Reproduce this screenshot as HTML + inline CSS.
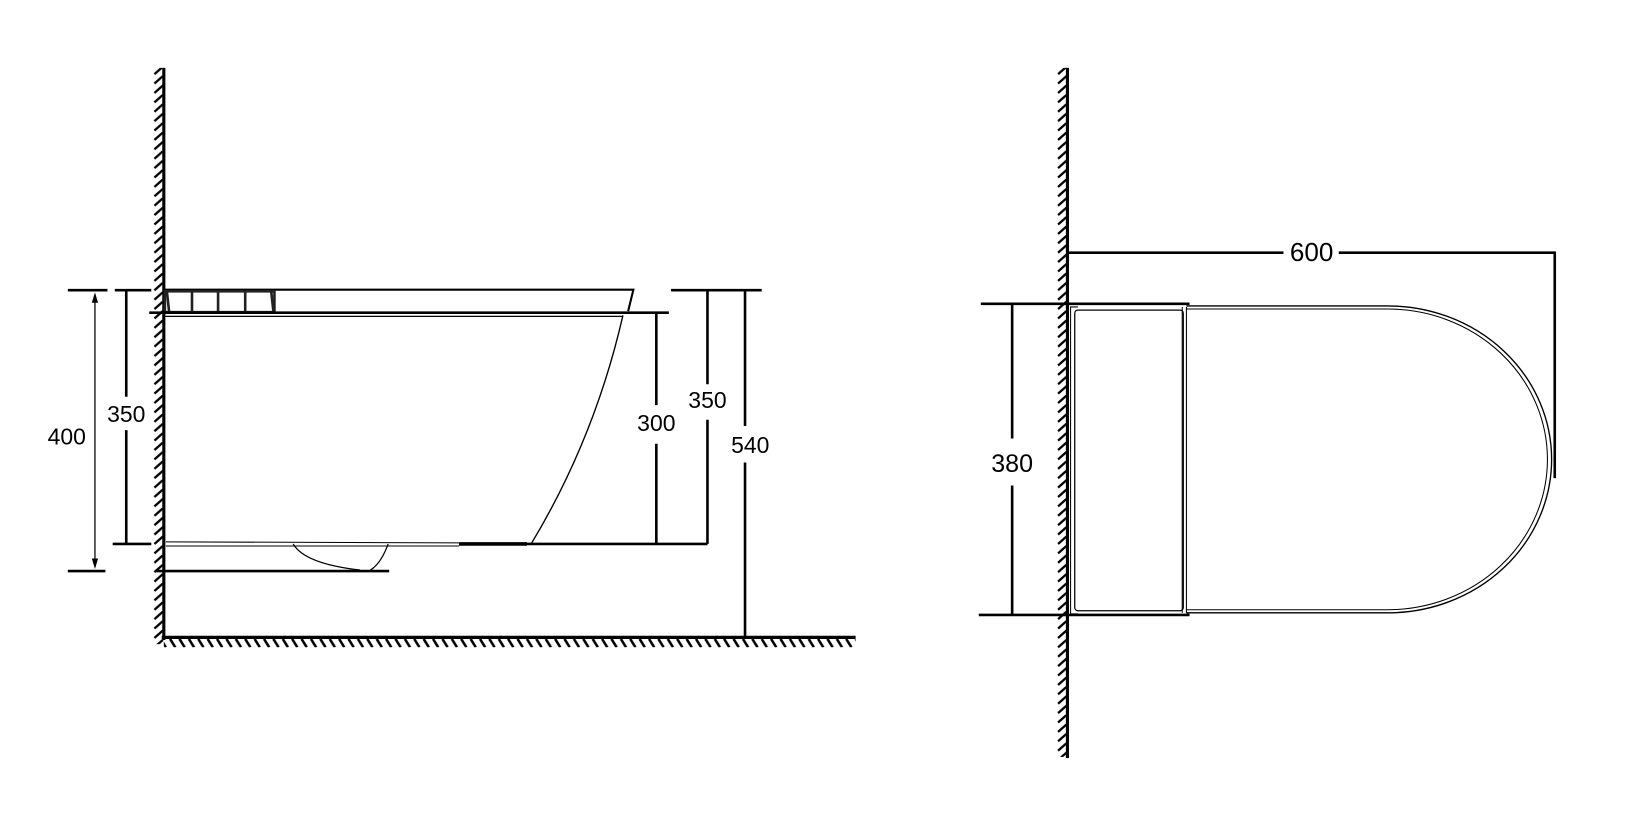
<!DOCTYPE html>
<html><head><meta charset="utf-8"><style>
html,body{margin:0;padding:0;background:#fff;}
svg{display:block;}
text{font-family:"Liberation Sans",Arial,sans-serif;font-size:22px;fill:#000;}
</style></head><body>
<svg width="1633" height="830" viewBox="0 0 1565 795" preserveAspectRatio="none" xmlns="http://www.w3.org/2000/svg">
<defs>
<pattern id="wh" patternUnits="userSpaceOnUse" x="147" y="0" width="10" height="9">
<path d="M1 8 L9 1" stroke="#000" stroke-width="2.2"/>
</pattern>
<pattern id="wh2" patternUnits="userSpaceOnUse" x="1013" y="0" width="10" height="9">
<path d="M1 8 L9 1" stroke="#000" stroke-width="2.2"/>
</pattern>
<pattern id="fh" patternUnits="userSpaceOnUse" x="0" y="612" width="9" height="10">
<path d="M1 0 L6 8" stroke="#000" stroke-width="2.4"/>
</pattern>
</defs>
<rect width="1565" height="795" fill="#fff"/>

<rect x="147" y="65" width="10" height="552" fill="url(#wh)"/>
<line x1="157" y1="65" x2="157" y2="613" stroke="#000" stroke-width="3"/>
<rect x="157" y="612" width="663" height="8" fill="url(#fh)"/>
<line x1="155" y1="610.5" x2="820" y2="610.5" stroke="#000" stroke-width="3"/>

<path d="M157 277.5 L607 277.5 L602 298" fill="none" stroke="#000" stroke-width="2"/>
<rect x="158" y="279" width="105" height="20" fill="none" stroke="#222" stroke-width="2.5"/>
<path d="M160 280 L162 298 M184 280 L184 298 M209 280 L209 298 M235 280 L235 298 M260 280 L262 298" stroke="#222" stroke-width="2.5"/>
<line x1="143" y1="299.5" x2="641" y2="299.5" stroke="#000" stroke-width="2.5"/>
<path d="M157 303 L597 303" stroke="#000" stroke-width="1.2" fill="none"/>
<path d="M597 302 Q570 420 509 521" stroke="#000" stroke-width="1.3" fill="none"/>
<path d="M159 519 L440 520 M159 523 L440 523" stroke="#000" stroke-width="1" fill="none"/>
<line x1="440" y1="521" x2="678" y2="521" stroke="#000" stroke-width="2.5"/>
<line x1="440" y1="521" x2="505" y2="521" stroke="#000" stroke-width="3.5"/>
<path d="M281 521 Q292 540 345 546 M372 521 Q365 540 355 546" stroke="#000" stroke-width="1.2" fill="none"/>
<line x1="150" y1="547" x2="373" y2="547" stroke="#000" stroke-width="2.5"/>

<line x1="65" y1="278" x2="103" y2="278" stroke="#000" stroke-width="2.5"/>
<line x1="65" y1="547" x2="101" y2="547" stroke="#000" stroke-width="2.5"/>
<line x1="91" y1="284" x2="91" y2="541" stroke="#000" stroke-width="1.2"/>
<path d="M88 290 L91 280 L94 290 Z M88 535 L91 545 L94 535 Z" fill="#000"/>
<text x="64" y="426" text-anchor="middle">400</text>
<line x1="110" y1="278" x2="145" y2="278" stroke="#000" stroke-width="2.5"/>
<line x1="108" y1="521" x2="145" y2="521" stroke="#000" stroke-width="2.5"/>
<line x1="121" y1="278" x2="121" y2="380" stroke="#000" stroke-width="2.5"/>
<line x1="121" y1="412" x2="121" y2="521" stroke="#000" stroke-width="2.5"/>
<text x="121" y="404" text-anchor="middle">350</text>
<line x1="629" y1="300" x2="629" y2="388" stroke="#000" stroke-width="2.5"/>
<line x1="629" y1="425" x2="629" y2="521" stroke="#000" stroke-width="2.5"/>
<text x="629" y="413" text-anchor="middle">300</text>
<line x1="643" y1="278" x2="730" y2="278" stroke="#000" stroke-width="2.5"/>
<line x1="678" y1="278" x2="678" y2="368" stroke="#000" stroke-width="2.5"/>
<line x1="678" y1="402" x2="678" y2="521" stroke="#000" stroke-width="2.5"/>
<text x="678" y="391" text-anchor="middle">350</text>
<line x1="714" y1="278" x2="714" y2="408" stroke="#000" stroke-width="2.5"/>
<line x1="714" y1="443" x2="714" y2="610" stroke="#000" stroke-width="2.5"/>
<text x="719" y="434" text-anchor="middle">540</text>

<rect x="1013" y="65" width="10" height="660" fill="url(#wh2)"/>
<line x1="1023" y1="65" x2="1023" y2="726" stroke="#000" stroke-width="3"/>
<line x1="1023" y1="242" x2="1230" y2="242" stroke="#000" stroke-width="2.5"/>
<line x1="1283" y1="242" x2="1491" y2="242" stroke="#000" stroke-width="2.5"/>
<line x1="1490" y1="241" x2="1490" y2="458" stroke="#000" stroke-width="2.5"/>
<text x="1257" y="250" text-anchor="middle" style="font-size:25px">600</text>
<line x1="940" y1="291" x2="1140" y2="291" stroke="#000" stroke-width="2.5"/>
<line x1="938" y1="589" x2="1140" y2="589" stroke="#000" stroke-width="2.5"/>
<line x1="970" y1="291" x2="970" y2="420" stroke="#000" stroke-width="2.5"/>
<line x1="970" y1="465" x2="970" y2="589" stroke="#000" stroke-width="2.5"/>
<text x="970" y="452" text-anchor="middle" style="font-size:24px">380</text>
<path d="M1033 294 L1026 294 L1026 588 L1033 588" fill="none" stroke="#000" stroke-width="1"/>
<rect x="1030" y="297" width="104" height="288" rx="3" fill="none" stroke="#000" stroke-width="1.2"/>
<line x1="1133" y1="294" x2="1133" y2="587" stroke="#000" stroke-width="1"/>
<line x1="1137" y1="294" x2="1137" y2="587" stroke="#000" stroke-width="1"/>
<path d="M1137 293 L1330 293 A157 147 0 0 1 1330 587 L1137 587" fill="none" stroke="#000" stroke-width="1.3"/>
<path d="M1137 296 L1330 296 A153 144 0 0 1 1330 584 L1137 584" fill="none" stroke="#000" stroke-width="1"/>
</svg>
</body></html>
